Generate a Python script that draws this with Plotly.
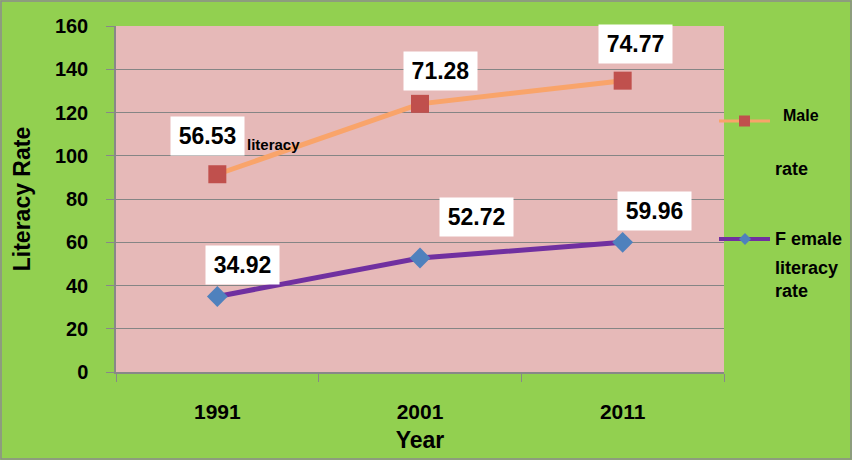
import plotly.graph_objects as go

years = ["1991", "2001", "2011"]
male = [56.53, 71.28, 74.77]
female = [34.92, 52.72, 59.96]
# stacked line chart: male series sits on top of female
male_stacked = [round(f + m, 2) for f, m in zip(female, male)]

FONT = "Liberation Sans, Arial, sans-serif"
GREEN = "#92D050"
PINK = "#E6B9B8"
MALE_LINE = "#F9A46A"
MALE_MARK = "#C0504D"
FEM_LINE = "#7030A0"
FEM_MARK = "#4F81BD"

W, H = 852, 460
ML, MR, MT, MB = 116, 128, 26, 88
PW = W - ML - MR
PH = H - MT - MB


def px(x):  # figure pixel -> paper x
    return (x - ML) / PW


def py(y):  # figure pixel (from top) -> paper y
    return (H - MB - y) / PH


fig = go.Figure()
fig.add_trace(go.Scatter(
    x=years, y=female, mode="lines+markers", name="Female literacy rate",
    line=dict(color=FEM_LINE, width=5),
    marker=dict(symbol="diamond", size=16, color=FEM_MARK),
    showlegend=False))
fig.add_trace(go.Scatter(
    x=years, y=male_stacked, mode="lines+markers", name="Male literacy rate",
    line=dict(color=MALE_LINE, width=5),
    marker=dict(symbol="square", size=18, color=MALE_MARK),
    showlegend=False))

# data labels (white boxes); x given as category index
male_shift = [(-10, 38), (20, 33), (13, 37)]
female_shift = [(25, 31), (56, 41), (32, 31)]
for i, yr in enumerate(years):
    for val, ypos, (dx, dy) in ((male[i], male_stacked[i], male_shift[i]),
                                (female[i], female[i], female_shift[i])):
        fig.add_annotation(x=i, y=ypos, xref="x", yref="y", text=f"<b>{val:.2f}</b>",
                           showarrow=False, xshift=dx, yshift=dy, bgcolor="white",
                           font=dict(family=FONT, size=23, color="black"),
                           borderpad=6, width=61)

# legend drawn manually
fig.add_shape(type="line", xref="paper", yref="paper", x0=px(719), x1=px(770),
              y0=py(121), y1=py(121), line=dict(color=MALE_LINE, width=3))
fig.add_shape(type="rect", xref="paper", yref="paper", x0=px(739), x1=px(750),
              y0=py(126.5), y1=py(115.5), line=dict(width=0), fillcolor=MALE_MARK)
fig.add_shape(type="line", xref="paper", yref="paper", x0=px(719), x1=px(770),
              y0=py(239), y1=py(239), line=dict(color=FEM_LINE, width=4))
fig.add_shape(type="path", xref="paper", yref="paper",
              path=(f"M {px(745)} {py(233)} L {px(751)} {py(239)} "
                    f"L {px(745)} {py(245)} L {px(739)} {py(239)} Z"),
              line=dict(width=0), fillcolor=FEM_MARK)

for txt, x, y, sz in (("Male", 781, 115, 16), ("rate", 773, 169, 18),
                      ("F emale", 773, 239, 18), ("literacy", 773, 268, 18),
                      ("rate", 773, 291, 18)):
    fig.add_annotation(xref="paper", yref="paper", x=px(x), y=py(y), text=f"<b>{txt}</b>",
                       showarrow=False, xanchor="left", yanchor="middle",
                       font=dict(family=FONT, size=sz, color="black"))
fig.add_annotation(xref="paper", yref="paper", x=px(245), y=py(144),
                   text="<b>literacy</b>", showarrow=False, xanchor="left", yanchor="middle",
                   font=dict(family=FONT, size=15, color="black"))

# outer border
fig.add_shape(type="rect", xref="paper", yref="paper",
              x0=px(1), x1=px(851), y0=py(459), y1=py(1),
              line=dict(color="#8c8c8c", width=1.5), layer="below")

fig.update_layout(
    width=W, height=H,
    margin=dict(l=ML, r=MR, t=MT, b=MB),
    paper_bgcolor=GREEN, plot_bgcolor=PINK,
    font=dict(family=FONT, color="black"),
    xaxis=dict(type="category", range=[-0.5, 2.5], tickson="boundaries", ticks="outside",
               ticklen=8, tickcolor="#888", showline=True, linecolor="#888", linewidth=1.5,
               showgrid=False, ticklabelstandoff=20,
               tickfont=dict(family=FONT, size=21),
               tickprefix="<b>", ticksuffix="</b>",
               title=dict(text="<b>Year</b>", font=dict(family=FONT, size=23), standoff=10)),
    yaxis=dict(range=[0, 160], dtick=20, ticks="outside", ticklen=8, tickcolor="#888",
               showline=True, linecolor="#888", linewidth=1.5,
               gridcolor="#858585", gridwidth=1, zeroline=False,
               tickfont=dict(family=FONT, size=20), ticklabelstandoff=14,
               tickprefix="<b>", ticksuffix="</b>",
               title=dict(text="<b>Literacy Rate</b>", font=dict(family=FONT, size=23), standoff=18)),
)
fig.write_html("out.html", config={"displayModeBar": False},
               post_script="document.body.style.margin='0';")
